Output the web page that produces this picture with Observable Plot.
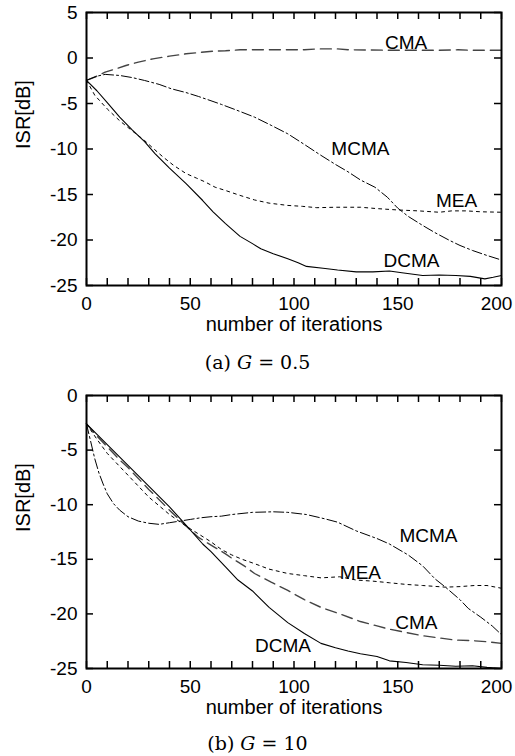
<!DOCTYPE html>
<html><head><meta charset="utf-8">
<script src="https://cdn.jsdelivr.net/npm/d3@7"></script>
<script src="https://cdn.jsdelivr.net/npm/@observablehq/plot@0.6"></script>
<style>
body{margin:0;background:#fff;}
#wrap{position:relative;width:515px;height:756px;overflow:hidden;background:#fff}
.panel{position:absolute;left:0}
.cap{position:absolute;left:0;width:515px;text-align:center;font-family:"DejaVu Serif","Liberation Serif",serif;font-size:19px;height:24px;line-height:24px;color:#000}
.cap i{font-style:italic}
.eq{margin:0 6px}
</style></head><body>
<div id="wrap">
 <div id="pa" class="panel" style="top:0"></div>
 <div class="cap" style="top:350px">(a) <i>G</i><span class="eq">=</span>0.5</div>
 <div id="pb" class="panel" style="top:380px"></div>
 <div class="cap" style="top:731px">(b) <i>G</i><span class="eq">=</span>10</div>
</div>
<script>
// ---- data (iteration, ISR dB) ----
const xMajor = [0, 50, 100, 150];
const xLast = [200];
const xMinor = [0,10,20,30,40,50,60,70,80,90,100,110,120,130,140,150,160,170,180,190,200];
const yTicksA = [5, 0, -5, -10, -15, -20, -25];
const yTicksB = [0, -5, -10, -15, -20, -25];

const aCMA = [[0,-2.45],[5,-2.0],[9,-1.56],[14,-1.2],[19,-0.82],[25,-0.45],[32,-0.09],[40,0.2],[48,0.46],[55,0.62],[61,0.75],[67,0.8],[74,0.9],[90,0.9],[105,0.9],[111,1.0],[121,1.0],[126,0.9],[150,0.85],[170,0.85],[179,0.9],[185,0.85],[200,0.85]];
const aMCMA = [[0,-2.45],[5,-2.0],[9,-1.8],[16,-1.92],[22,-2.15],[28,-2.47],[35,-2.9],[41,-3.39],[48,-3.8],[54,-4.23],[60,-4.7],[65,-5.1],[72,-5.7],[81,-6.5],[89,-7.4],[97,-8.33],[105,-9.5],[113,-10.7],[120,-11.7],[126,-12.5],[132,-13.4],[139,-14.2],[145,-15.3],[150,-16.5],[155,-17.4],[162,-18.4],[168,-19.2],[175,-20.05],[180,-20.6],[186,-21.15],[193,-21.7],[200,-22.2]];
const aMEA = [[0,-2.45],[4,-4.1],[10,-5.6],[16,-6.9],[22,-8.0],[28,-9.07],[32,-9.9],[37,-10.9],[42,-11.8],[48,-12.7],[53,-13.2],[57,-13.6],[62,-14.2],[67,-14.56],[74,-15.1],[81,-15.6],[88,-15.95],[97,-16.2],[104,-16.3],[111,-16.45],[120,-16.4],[132,-16.4],[140,-16.55],[150,-16.7],[160,-16.8],[170,-16.95],[176,-16.8],[183,-16.8],[190,-16.9],[200,-16.95]];
const aDCMA = [[0,-2.45],[5,-3.6],[10,-4.9],[16,-6.5],[22,-7.9],[28,-9.2],[33,-10.5],[40,-12.1],[48,-13.8],[56,-15.66],[61,-16.9],[67,-18.2],[74,-19.6],[80,-20.4],[84,-20.97],[90,-21.5],[97,-22.07],[102,-22.5],[106,-22.9],[114,-23.1],[121,-23.3],[130,-23.5],[138,-23.5],[146,-23.4],[152,-23.6],[162,-23.9],[170,-23.85],[178,-23.9],[185,-24.0],[192,-24.27],[196,-24.1],[200,-23.9]];

const bMCMA = [[0,-2.6],[2,-4.2],[4,-5.8],[6,-7.1],[8,-8.1],[10,-9.0],[13,-9.9],[16,-10.5],[20,-11.1],[25,-11.5],[30,-11.7],[35,-11.8],[40,-11.65],[45,-11.5],[50,-11.35],[55,-11.2],[60,-11.1],[65,-11.05],[70,-10.9],[80,-10.7],[90,-10.65],[97,-10.7],[106,-10.9],[115,-11.3],[121,-11.6],[130,-12.4],[140,-13.1],[146,-13.6],[155,-14.6],[162,-15.6],[168,-16.8],[173,-17.55],[180,-18.7],[184,-19.5],[190,-20.3],[195.5,-21.1],[200,-21.9]];
const bMEA = [[0,-2.6],[5,-4.0],[10,-5.3],[16,-6.5],[20,-7.3],[25,-8.3],[30,-9.3],[35,-10.1],[40,-10.9],[46,-11.7],[50,-12.2],[55,-12.8],[60,-13.4],[65,-14.1],[70,-14.6],[75,-15.0],[81,-15.4],[88,-15.9],[97,-16.3],[105,-16.5],[113,-16.7],[122,-16.6],[130,-16.9],[138,-17.0],[146,-17.15],[154,-17.3],[162,-17.4],[173,-17.55],[180,-17.5],[187,-17.4],[193,-17.4],[200,-17.65]];
const bCMA = [[0,-2.6],[5,-3.7],[10,-4.7],[16,-5.9],[20,-6.6],[30,-8.6],[40,-10.5],[46,-11.6],[50,-12.3],[54,-13.0],[60,-13.7],[67,-14.5],[70,-14.9],[76,-15.6],[81,-16.3],[89,-17.1],[97,-17.85],[105,-18.7],[113,-19.4],[122,-20.0],[132,-20.7],[140,-21.1],[146,-21.4],[154,-21.7],[162,-22.0],[170,-22.2],[178,-22.4],[186,-22.45],[193,-22.55],[200,-22.7]];
const bDCMA = [[0,-2.6],[10,-4.5],[20,-6.4],[30,-8.3],[40,-10.2],[46,-11.45],[50,-12.3],[56,-13.6],[60,-14.3],[67,-15.7],[73,-16.9],[80,-17.9],[88,-19.4],[97,-20.8],[105,-21.8],[113,-22.7],[120,-23.1],[126,-23.4],[132,-23.65],[140,-23.9],[146,-24.3],[154,-24.45],[162,-24.65],[170,-24.7],[178,-24.8],[186,-24.75],[193,-24.9],[200,-25.0]];

const labelsA = [{name:"CMA",x:154,y:1.63},{name:"MCMA",x:132,y:-10.0},{name:"MEA",x:178.3,y:-15.66},{name:"DCMA",x:156.6,y:-22.25}];
const labelsB = [{name:"MCMA",x:164.8,y:-12.9},{name:"MEA",x:132,y:-16.27},{name:"CMA",x:159,y:-20.85},{name:"DCMA",x:94.7,y:-22.9}];

const styles = {
  CMA:  {stroke:"#444", width:1.4, dash:"11,6"},
  MEA:  {stroke:"#000", width:1.0, dash:"3,4"},
  MCMA: {stroke:"#000", width:1.0, dash:"10,3,2,3"},
  DCMA: {stroke:"#000", width:1.1, dash:null}
};

function panel(series, yDomain, yTicks, labels, marginTop) {
  const innerH = 273, innerW = 415, mL = 86, mR = 14, mB = 55;
  const font = 19;
  return Plot.plot({
    width: 515, height: marginTop + innerH + mB,
    marginTop, marginBottom: mB, marginLeft: mL, marginRight: mR,
    style: {fontFamily: "'Liberation Sans', Arial, sans-serif", fontSize: font + "px", background: "#fff", color: "#000", overflow: "visible"},
    x: {domain: [0, 200], axis: null},
    y: {domain: yDomain, axis: null},
    marks: [
      ...series.map(([name, data]) => Plot.line(data, {x: d => d[0], y: d => d[1], stroke: styles[name].stroke, strokeWidth: styles[name].width, strokeDasharray: styles[name].dash})),
      Plot.ruleX(xMinor, {x: d => d, insetTop: innerH - 7, strokeWidth: 1.5}),
      Plot.ruleX(xMinor, {x: d => d, insetBottom: innerH - 7, strokeWidth: 1.5}),
      Plot.ruleY(yTicks, {y: d => d, insetRight: innerW - 7, strokeWidth: 1.5}),
      Plot.ruleY(yTicks, {y: d => d, insetLeft: innerW - 7, strokeWidth: 1.5}),
      Plot.frame({strokeWidth: 2}),
      Plot.text(xMajor, {x: d => d, frameAnchor: "bottom", dy: 24, text: d => String(d), fontSize: font}),
      Plot.text(xLast, {x: d => d, frameAnchor: "bottom", dy: 24, dx: -5, text: d => String(d), fontSize: font}),
      Plot.text(yTicks, {y: d => d, frameAnchor: "left", dx: -9, textAnchor: "end", text: d => String(d), fontSize: font}),
      Plot.text(["number of iterations"], {frameAnchor: "bottom", dy: 45, text: d => d, fontSize: 20}),
      Plot.text(["ISR[dB]"], {frameAnchor: "left", dx: -63, rotate: -90, text: d => d, fontSize: 20}),
      Plot.text(labels, {x: "x", y: "y", text: "name", fontSize: font})
    ]
  });
}

document.getElementById("pa").appendChild(panel([["CMA", aCMA], ["MCMA", aMCMA], ["MEA", aMEA], ["DCMA", aDCMA]], [-25, 5], yTicksA, labelsA, 12));
document.getElementById("pb").appendChild(panel([["CMA", bCMA], ["MCMA", bMCMA], ["MEA", bMEA], ["DCMA", bDCMA]], [-25, 0], yTicksB, labelsB, 15));
</script>
</body></html>
